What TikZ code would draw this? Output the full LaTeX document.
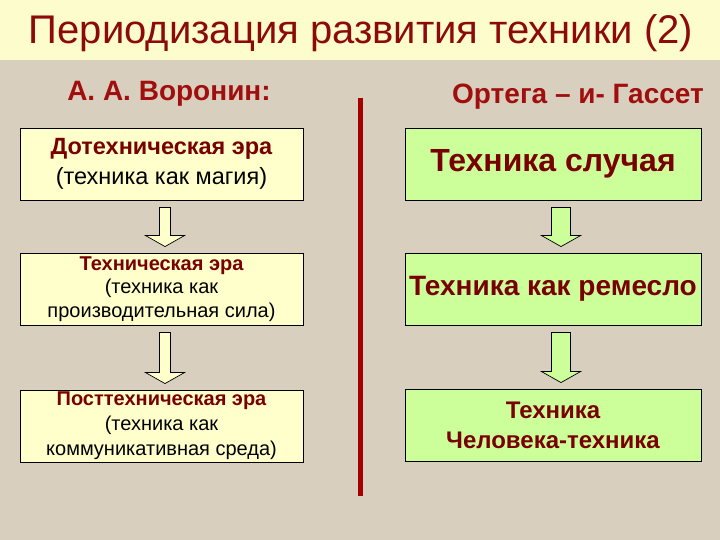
\documentclass[tikz,border=0pt]{standalone}
\usepackage{fontspec}
\setmainfont{Liberation Sans}
\usetikzlibrary{calc}
\definecolor{bandyellow}{RGB}{253,252,204}
\definecolor{paper}{RGB}{217,207,190}
\definecolor{titlered}{RGB}{140,10,10}
\definecolor{headred}{RGB}{160,14,14}
\definecolor{boxred}{RGB}{120,0,0}
\definecolor{linered}{RGB}{165,0,0}
\definecolor{leftfill}{RGB}{255,255,204}
\definecolor{rightfill}{RGB}{204,255,153}
\tikzset{
  box/.style={draw=black, line width=0.9pt, inner sep=2pt, align=center},
  leftbox/.style={box, fill=leftfill, minimum width=283pt, minimum height=72pt},
  rightbox/.style={box, fill=rightfill, minimum width=296pt, minimum height=72pt},
  blockarrow/.style={draw=black, line width=0.7pt, line join=miter},
  heading/.style={font=\fontsize{28}{32}\selectfont\bfseries, text=headred, inner sep=0pt},
}
\newcommand\blockarr[6]{%
  \draw[blockarrow,fill=#6]
    ($(#1.south)+(#3-#4,7)$) -- ($(#2.north)+(#3-#4,-17)$) --
    ($(#2.north)+(#3-#5,-17)$) -- ($(#2.north)+(#3,-6)$) --
    ($(#2.north)+(#3+#5,-17)$) -- ($(#2.north)+(#3+#4,-17)$) --
    ($(#1.south)+(#3+#4,7)$) -- cycle;}
\begin{document}
\begin{tikzpicture}[x=1pt,y=-1pt]
\useasboundingbox (0,0) rectangle (720,540);
\fill[paper] (0,0) rectangle (720,540);
\fill[bandyellow] (0,0) rectangle (720,60);
\node[font=\fontsize{40}{44}\selectfont, text=titlered, inner sep=0pt] (title) at (361,33) {Периодизация развития техники (2)};
\node[heading] (hl) at (169,94) {А. А. Воронин:};
\node[heading] (hr) at (578,97) {Ортега – и- Гассет};
\coordinate (vtop) at (360.5,98);
\coordinate (vbot) at (360.5,496);
\draw[linered, line width=5pt] (vtop) -- (vbot);
% left column
\node[leftbox, font=\fontsize{23.5}{30}\selectfont] (l1) at (161.5,164)
  {\textcolor{boxred}{\bfseries Дотехническая эра}\\(техника как магия)};
\node[leftbox, font=\fontsize{20}{23.5}\selectfont] (l2) at (161.5,289)
  {\textcolor{boxred}{\bfseries Техническая эра}\\(техника как\\производительная сила)};
\node[leftbox, font=\fontsize{20}{25}\selectfont] (l3) at (161.5,426)
  {\textcolor{boxred}{\bfseries Посттехническая эра}\\(техника как\\коммуникативная среда)};
% right column
\node[rightbox, font=\fontsize{32}{36}\selectfont\bfseries, text=boxred] (r1) at (553,164) {Техника случая};
\node[rightbox, font=\fontsize{28}{32}\selectfont\bfseries, text=boxred] (r2) at (553,289) {Техника как ремесло};
\node[rightbox, font=\fontsize{24}{30}\selectfont\bfseries, text=boxred] (r3) at (553,425) {Техника\\Человека-техника};
% arrows
\blockarr{l1}{l2}{3.5}{5.5}{19.5}{leftfill}
\blockarr{l2}{l3}{3.5}{5.5}{19.5}{leftfill}
\blockarr{r1}{r2}{8}{9.5}{19.5}{rightfill}
\blockarr{r2}{r3}{8}{9.5}{19.5}{rightfill}
\end{tikzpicture}
\end{document}
